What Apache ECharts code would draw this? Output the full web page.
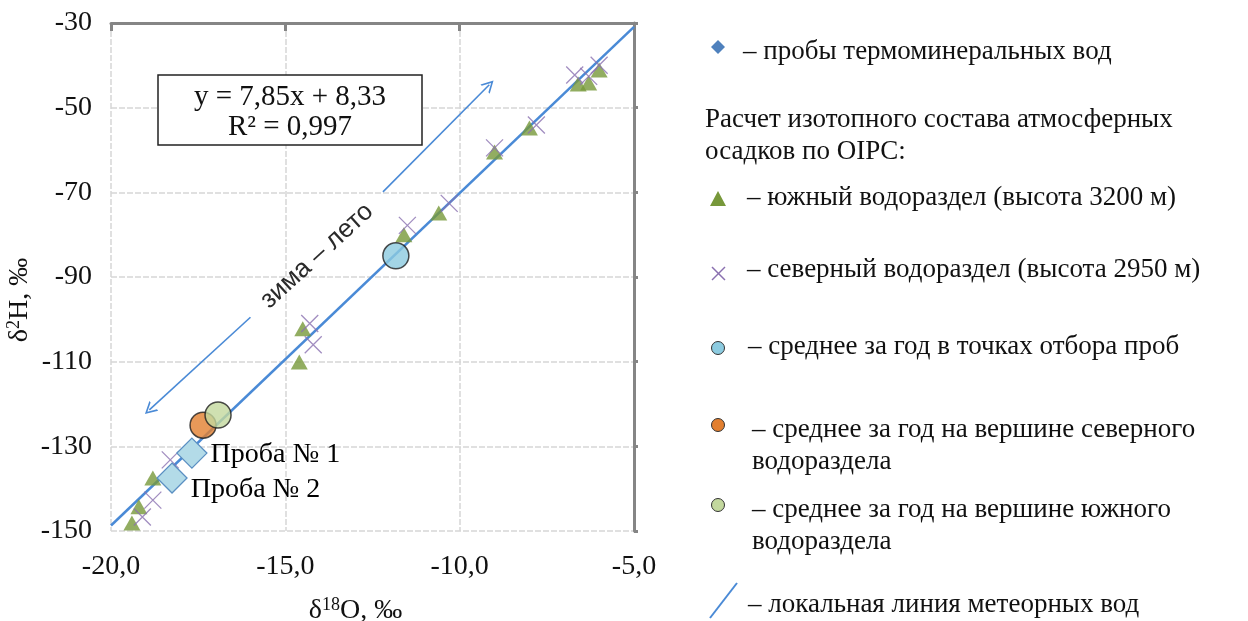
<!DOCTYPE html>
<html>
<head>
<meta charset="utf-8">
<script src="https://cdn.jsdelivr.net/npm/echarts@6/dist/echarts.min.js"></script>
<style>
  html, body { margin: 0; padding: 0; background: #fff; }
  #main { width: 1248px; height: 621px; }
</style>
</head>
<body>
<div id="main"></div>
<script>
// значения
var xTicks = [-20, -15, -10, -5];
var yTicks = [-150, -130, -110, -90, -70, -50, -30];

// южный водораздел (высота 3200 м)
var southX = [-19.4, -19.2, -18.8, -14.6, -14.5, -11.6, -10.6, -9.0, -8.0, -6.6, -6.3, -6.0];
var southY = [-148.1, -144.3, -137.5, -110.1, -102.2, -80.0, -74.9, -60.5, -54.8, -44.4, -44.2, -41.1];

// северный водораздел (высота 2950 м)
var northX = [-19.1, -18.8, -18.3, -14.2, -14.3, -11.5, -10.3, -9.0, -7.8, -6.7, -6.3, -6.0];
var northY = [-146.7, -142.7, -133.2, -106.0, -101.0, -77.8, -72.6, -59.5, -54.1, -42.3, -42.6, -40.0];

// средние за год
var meanSiteX = [-11.83];
var meanSiteY = [-85.0];
var meanNorthX = [-17.36];
var meanNorthY = [-125.0];
var meanSouthX = [-16.93];
var meanSouthY = [-122.6];

// пробы термоминеральных вод
var sampleNames = ['Проба № 1', 'Проба № 2'];
var sampleX = [-17.68, -18.25];
var sampleY = [-131.6, -137.5];

// локальная линия метеорных вод  y = 7,85x + 8,33
var lmwlX = [-20, -5];
var lmwlY = [-148.7, -30.9];

// стрелка «зима – лето»
var arrowLow = [[-16.0, -99.5], [-18.9, -121.4]];
var arrowHigh = [[-12.2, -69.9], [-9.15, -44.6]];

function pairs(xs, ys) {
    return xs.map(function(x, i) { return [x, ys[i]]; });
}

var serif = 'Liberation Serif';
var lineBlue = '#4a8ad6';
var chevron = 'path://M5,0 L10,10 L8.6,10 L5,2.8 L1.4,10 L0,10 Z';
var crossPath = 'path://M0,0 L10,10 M10,0 L0,10';
var legendFont = '27px "Liberation Serif"';

//подпись легенды
function legendText(x, y, text) {
    return { type: 'text', x: x, y: y, z: 20,
             style: { text: text, font: legendFont, fill: '#111', verticalAlign: 'middle' } };
}

var myChart = echarts.init(document.getElementById('main'));

var option = {
    animation: false,
    backgroundColor: '#fff',
    grid: { left: 111, top: 23, right: 614, bottom: 90, containLabel: false, outerBoundsMode: 'none' },
    xAxis: [{
        type: 'value', min: -20, max: -5, interval: 5, position: 'bottom',
        axisLine: { show: false }, axisTick: { show: false },
        axisLabel: {
            margin: 22, color: '#111', fontFamily: serif, fontSize: 28,
            formatter: function(v) { return v.toFixed(1).replace('.', ','); }
        },
        splitLine: { show: true, lineStyle: { color: '#d6d6d6', width: 1.5, type: [6, 2] } },
        name: '{d|δ}{s|18}{d|O, ‰}', nameLocation: 'middle', nameGap: 65,
        nameTextStyle: {
            padding: [0, 34, 0, 0],
            rich: {
                d: { fontFamily: serif, fontSize: 28, color: '#111' },
                s: { fontFamily: serif, fontSize: 18, color: '#111', verticalAlign: 'top', padding: [0, 0, 12, 0] }
            }
        }
    }, {
        type: 'value', min: -20, max: -5, interval: 5, position: 'top',
        axisLine: { show: true, lineStyle: { color: '#858585', width: 3 } },
        axisTick: { show: true, inside: true, length: 8, lineStyle: { color: '#858585', width: 3 } },
        axisLabel: { show: false }, splitLine: { show: false }
    }],
    yAxis: [{
        type: 'value', min: -150, max: -30, interval: 20, position: 'left',
        axisLine: { show: false }, axisTick: { show: false },
        axisLabel: { margin: 19, color: '#111', fontFamily: serif, fontSize: 28 },
        splitLine: { show: true, lineStyle: { color: '#d6d6d6', width: 1.5, type: [6, 2] } },
        name: '{d|δ}{s|2}{d|H, ‰}', nameLocation: 'middle', nameGap: 76, nameRotate: 90,
        nameTextStyle: {
            padding: [0, 46, 0, 0],
            rich: {
                d: { fontFamily: serif, fontSize: 28, color: '#111' },
                s: { fontFamily: serif, fontSize: 18, color: '#111', verticalAlign: 'top', padding: [0, 0, 12, 0] }
            }
        }
    }, {
        type: 'value', min: -150, max: -30, interval: 20, position: 'right',
        axisLine: { show: true, lineStyle: { color: '#858585', width: 3 } },
        axisTick: { show: true, inside: false, length: 4, lineStyle: { color: '#858585', width: 3 } },
        axisLabel: { show: false }, splitLine: { show: false }
    }],
    series: [{
        name: 'локальная линия метеорных вод',
        type: 'line',
        data: pairs(lmwlX, lmwlY),
        symbol: 'none',
        lineStyle: { color: lineBlue, width: 2.5 },
        z: 2,
        markLine: {
            silent: true,
            symbol: ['none', chevron],
            symbolSize: [13, 12],
            lineStyle: { color: lineBlue, width: 1.6, type: 'solid' },
            label: { show: false },
            data: [
                [{ coord: arrowLow[0] }, { coord: arrowLow[1] }],
                [{ coord: arrowHigh[0] }, { coord: arrowHigh[1] }]
            ]
        }
    }, {
        name: 'южный водораздел',
        type: 'scatter',
        data: pairs(southX, southY),
        symbol: 'triangle',
        symbolSize: [17, 15],
        itemStyle: { color: '#77983a' },
        z: 3
    }, {
        name: 'северный водораздел',
        type: 'scatter',
        data: pairs(northX, northY),
        symbol: crossPath,
        symbolSize: 17,
        itemStyle: { color: 'rgba(0,0,0,0)', borderColor: '#8a70b0', borderWidth: 1.3 },
        z: 4
    }, {
        name: 'среднее за год в точках отбора проб',
        type: 'scatter',
        data: pairs(meanSiteX, meanSiteY),
        symbolSize: 26,
        itemStyle: { color: '#8ccbe0', borderColor: '#1e1e1e', borderWidth: 1.5 },
        z: 5
    }, {
        name: 'среднее за год на вершине северного водораздела',
        type: 'scatter',
        data: pairs(meanNorthX, meanNorthY),
        symbolSize: 26,
        itemStyle: { color: '#e27f2f', borderColor: '#1e1e1e', borderWidth: 1.5 },
        z: 5
    }, {
        name: 'среднее за год на вершине южного водораздела',
        type: 'scatter',
        data: pairs(meanSouthX, meanSouthY),
        symbolSize: 26,
        itemStyle: { color: '#c3d89e', borderColor: '#1e1e1e', borderWidth: 1.5 },
        z: 6
    }, {
        name: 'пробы термоминеральных вод',
        type: 'scatter',
        data: sampleX.map(function(x, i) {
            return {
                name: sampleNames[i],
                value: [x, sampleY[i]],
                label: { offset: i === 0 ? [0, 2] : [0, 12] }
            };
        }),
        symbol: 'diamond',
        symbolSize: 30,
        itemStyle: { color: '#b3dbe8', borderColor: '#5a8fc2', borderWidth: 1.3, opacity: 1 },
        label: {
            show: true, position: 'right', distance: 3,
            formatter: '{b}', fontFamily: serif, fontSize: 28, color: '#000',
            textBorderWidth: 0, opacity: 1
        },
        z: 7
    }],
    graphic: [
        // уравнение регрессии
        { type: 'rect', z: 20,
          shape: { x: 158, y: 75, width: 264, height: 70 },
          style: { fill: '#fff', stroke: '#222', lineWidth: 1.5 } },
        { type: 'text', x: 290, y: 97, z: 21,
          style: { text: 'y = 7,85x + 8,33', font: '29px "Liberation Serif"', fill: '#111', align: 'center', verticalAlign: 'middle' } },
        { type: 'text', x: 290, y: 127, z: 21,
          style: { text: 'R² = 0,997', font: '29px "Liberation Serif"', fill: '#111', align: 'center', verticalAlign: 'middle' } },
        // подпись стрелки
        { type: 'text', x: 317, y: 256, rotation: 0.74, z: 21,
          style: { text: 'зима – лето', font: '26px "Liberation Sans"', fill: '#2a2a2a', align: 'center', verticalAlign: 'middle' } },

        // легенда
        { type: 'polygon', z: 20, shape: { points: [[718, 40], [725, 47], [718, 54], [711, 47]] }, style: { fill: '#4f81bd' } },
        legendText(743, 52, '– пробы термоминеральных вод'),
        legendText(705, 120, 'Расчет изотопного состава атмосферных'),
        legendText(705, 152, 'осадков по OIPC:'),
        { type: 'polygon', z: 20, shape: { points: [[718, 191], [726, 206], [710, 206]] }, style: { fill: '#77983a' } },
        legendText(747, 198, '– южный водораздел (высота 3200 м)'),
        { type: 'line', z: 20, shape: { x1: 712, y1: 267, x2: 725, y2: 280 }, style: { stroke: '#8a70b0', lineWidth: 1.5 } },
        { type: 'line', z: 20, shape: { x1: 725, y1: 267, x2: 712, y2: 280 }, style: { stroke: '#8a70b0', lineWidth: 1.5 } },
        legendText(747, 270, '– северный водораздел (высота 2950 м)'),
        { type: 'circle', z: 20, shape: { cx: 718, cy: 348, r: 6.5 }, style: { fill: '#8ccbe0', stroke: '#333', lineWidth: 1 } },
        legendText(748, 347, '– среднее за год в точках отбора проб'),
        { type: 'circle', z: 20, shape: { cx: 718, cy: 425, r: 6.5 }, style: { fill: '#e27f2f', stroke: '#333', lineWidth: 1 } },
        legendText(752, 430, '– среднее за год на вершине северного'),
        legendText(752, 462, 'водораздела'),
        { type: 'circle', z: 20, shape: { cx: 718, cy: 505, r: 6.5 }, style: { fill: '#c3d89e', stroke: '#333', lineWidth: 1 } },
        legendText(752, 510, '– среднее за год на вершине южного'),
        legendText(752, 542, 'водораздела'),
        { type: 'line', z: 20, shape: { x1: 710, y1: 618, x2: 737, y2: 583 }, style: { stroke: lineBlue, lineWidth: 2 } },
        legendText(748, 605, '– локальная линия метеорных вод')
    ]
};

myChart.setOption(option);
</script>
</body>
</html>
